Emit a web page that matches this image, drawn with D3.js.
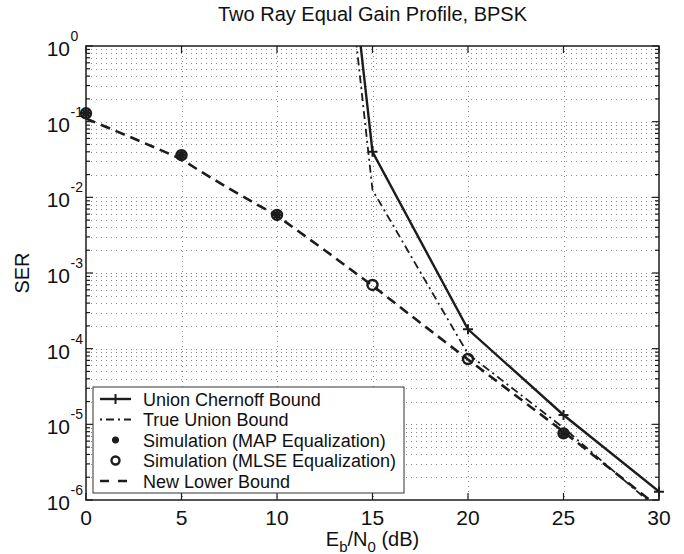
<!DOCTYPE html>
<html>
<head>
<meta charset="utf-8">
<script src="https://cdn.jsdelivr.net/npm/d3@7"></script>
<style>
  body { margin: 0; background: #fff; }
  svg { display: block; font-family: "Liberation Sans", Arial, sans-serif; }
</style>
</head>
<body>
<div id="chart"></div>
<script>
// values (Eb/N0 in dB, SER)
var chernoffX = [10, 15, 20, 25, 30];
var chernoffY = [8e9, 0.040, 1.8e-4, 1.33e-5, 1.29e-6];
var trueUnionX = [10, 15, 20, 25, 30];
var trueUnionY = [3.5e9, 0.0125, 8.5e-5, 9e-6, 7.3e-7];
var mapX = [0, 5, 10, 25];
var mapY = [0.129, 0.036, 0.00585, 7.6e-6];
var mlseX = [0, 5, 10, 15, 20, 25];
var mlseY = [0.129, 0.036, 0.00585, 6.95e-4, 7.3e-5, 7.6e-6];
var lowerX = [0, 2.5, 5, 6, 7.5, 10, 12.5, 15, 17.5, 20, 25, 30];
var lowerY = [0.11, 0.06, 0.032, 0.022, 0.013, 0.0057, 0.002, 6.8e-4, 2.2e-4, 7.2e-5, 8e-6, 8e-7];
var xTicks = [0, 5, 10, 15, 20, 25, 30];
var yTickExp = [0, -1, -2, -3, -4, -5, -6];
var legendNames = ["Union Chernoff Bound", "True Union Bound", "Simulation (MAP Equalization)",
                   "Simulation (MLSE Equalization)", "New Lower Bound"];

var W = 684, H = 554;
var plotL = 86, plotR = 659, plotT = 46, plotB = 500;
var ink = "#1c1c1c";

var svg = d3.select("#chart").append("svg").attr("width", W).attr("height", H);

var x = d3.scaleLinear().domain([0, 30]).range([plotL, plotR]);
var y = d3.scaleLog().domain([1e-6, 1]).range([plotB, plotT]);

svg.append("clipPath").attr("id", "plotclip")
  .append("rect").attr("x", plotL).attr("y", plotT).attr("width", plotR - plotL).attr("height", plotB - plotT);

// grid
var grid = svg.append("g").attr("stroke", "#8a8a8a").attr("stroke-width", 1).attr("stroke-dasharray", "1,4");
y.ticks().forEach(function(v) {
  if (v >= 1 || v <= 1e-6) return;
  grid.append("line").attr("x1", plotL).attr("x2", plotR)
    .attr("y1", Math.round(y(v)) + 0.5).attr("y2", Math.round(y(v)) + 0.5);
});
xTicks.forEach(function(v) {
  if (v == 0 || v == 30) return;
  grid.append("line").attr("y1", plotT).attr("y2", plotB)
    .attr("x1", Math.round(x(v)) + 0.5).attr("x2", Math.round(x(v)) + 0.5);
});

// tick marks (inside, on all four sides)
var ticks = svg.append("g").attr("stroke", ink).attr("stroke-width", 1.2);
xTicks.forEach(function(v) {
  var px = x(v);
  ticks.append("line").attr("x1", px).attr("x2", px).attr("y1", plotB).attr("y2", plotB - 7);
  ticks.append("line").attr("x1", px).attr("x2", px).attr("y1", plotT).attr("y2", plotT + 7);
});
y.ticks().forEach(function(v) {
  var py = y(v);
  var major = Math.abs(Math.log10(v) - Math.round(Math.log10(v))) < 1e-9;
  var len = major ? 7 : 4;
  ticks.append("line").attr("x1", plotL).attr("x2", plotL + len).attr("y1", py).attr("y2", py);
  ticks.append("line").attr("x1", plotR).attr("x2", plotR - len).attr("y1", py).attr("y2", py);
});

// curves
var plot = svg.append("g").attr("clip-path", "url(#plotclip)");
function pts(xs, ys) { return xs.map(function(d, i) { return [d, ys[i]]; }); }
var line = d3.line().x(function(d) { return x(d[0]); }).y(function(d) { return y(d[1]); });

plot.append("path").attr("d", line(pts(lowerX, lowerY)))
  .attr("fill", "none").attr("stroke", ink).attr("stroke-width", 2.6).attr("stroke-dasharray", "10,6");
plot.append("path").attr("d", line(pts(trueUnionX, trueUnionY)))
  .attr("fill", "none").attr("stroke", ink).attr("stroke-width", 1.8).attr("stroke-dasharray", "8,4,2,4");
plot.append("path").attr("d", line(pts(chernoffX, chernoffY)))
  .attr("fill", "none").attr("stroke", ink).attr("stroke-width", 2.4);

function plus(g, cx, cy, s) {
  g.append("path").attr("d", "M" + (cx - s) + "," + cy + "H" + (cx + s) + "M" + cx + "," + (cy - s) + "V" + (cy + s))
    .attr("stroke", ink).attr("stroke-width", 2).attr("fill", "none");
}
function star(g, cx, cy, s) {
  var d = "";
  for (var k = 0; k < 4; k++) {
    var a = k * Math.PI / 4;
    d += "M" + (cx - s * Math.cos(a)) + "," + (cy - s * Math.sin(a)) + "L" + (cx + s * Math.cos(a)) + "," + (cy + s * Math.sin(a));
  }
  g.append("path").attr("d", d).attr("stroke", ink).attr("stroke-width", 2.4).attr("fill", "none");
}
function ring(g, cx, cy, r) {
  g.append("circle").attr("cx", cx).attr("cy", cy).attr("r", r)
    .attr("fill", "none").attr("stroke", ink).attr("stroke-width", 2.4);
}

var marks = svg.append("g");
chernoffX.forEach(function(v, i) {
  if (chernoffY[i] <= 1) plus(marks, x(v), y(chernoffY[i]), 5);
});
mapX.forEach(function(v, i) { star(marks, x(v), y(mapY[i]), 5); });
mlseX.forEach(function(v, i) { ring(marks, x(v), y(mlseY[i]), 5); });

// axes box
svg.append("rect").attr("x", plotL).attr("y", plotT).attr("width", plotR - plotL).attr("height", plotB - plotT)
  .attr("fill", "none").attr("stroke", ink).attr("stroke-width", 1.5);

// tick labels
var lab = svg.append("g").attr("fill", "#111");
xTicks.forEach(function(v) {
  lab.append("text").attr("x", x(v)).attr("y", plotB + 25).attr("text-anchor", "middle")
    .attr("font-size", 21).text(v);
});
yTickExp.forEach(function(e) {
  var py = y(Math.pow(10, e));
  lab.append("text").attr("x", 70).attr("y", py + 10).attr("text-anchor", "end").attr("font-size", 21).text("10");
  lab.append("text").attr("x", 70.5).attr("y", py - 5).attr("font-size", 14).text(e == 0 ? "0" : "-" + (-e));
});

// title and axis labels
svg.append("text").attr("x", (plotL + plotR) / 2).attr("y", 21).attr("text-anchor", "middle")
  .attr("font-size", 20).attr("fill", "#111").text("Two Ray Equal Gain Profile, BPSK");

svg.append("text").attr("transform", "translate(29," + ((plotT + plotB) / 2) + ") rotate(-90)")
  .attr("text-anchor", "middle").attr("font-size", 20).attr("fill", "#111").text("SER");

var xl = svg.append("text").attr("x", (plotL + plotR) / 2).attr("y", 546).attr("text-anchor", "middle")
  .attr("font-size", 20).attr("fill", "#111");
xl.append("tspan").text("E");
xl.append("tspan").attr("font-size", 15).attr("dy", 6).text("b");
xl.append("tspan").attr("dy", -6).text("/N");
xl.append("tspan").attr("font-size", 15).attr("dy", 6).text("0");
xl.append("tspan").attr("dy", -6).text(" (dB)");

// legend
var lg = svg.append("g");
lg.append("rect").attr("x", 93).attr("y", 387).attr("width", 311).attr("height", 106)
  .attr("fill", "#fff").attr("stroke", "#333").attr("stroke-width", 1);
legendNames.forEach(function(name, i) {
  var ly = 399 + i * 20.5;
  if (i == 0) {
    lg.append("line").attr("x1", 100).attr("x2", 131).attr("y1", ly).attr("y2", ly).attr("stroke", ink).attr("stroke-width", 2.4);
    plus(lg, 115.5, ly, 5);
  } else if (i == 1) {
    lg.append("line").attr("x1", 100).attr("x2", 131).attr("y1", ly).attr("y2", ly).attr("stroke", ink)
      .attr("stroke-width", 1.8).attr("stroke-dasharray", "2,4,8,4");
  } else if (i == 2) {
    star(lg, 115.5, ly, 3.5);
  } else if (i == 3) {
    ring(lg, 115.5, ly, 4);
  } else {
    lg.append("line").attr("x1", 100).attr("x2", 131).attr("y1", ly).attr("y2", ly).attr("stroke", ink)
      .attr("stroke-width", 2.6).attr("stroke-dasharray", "9,9");
  }
  lg.append("text").attr("x", 143).attr("y", ly + 6.5).attr("font-size", 18).attr("fill", "#111").text(name);
});
</script>
</body>
</html>
